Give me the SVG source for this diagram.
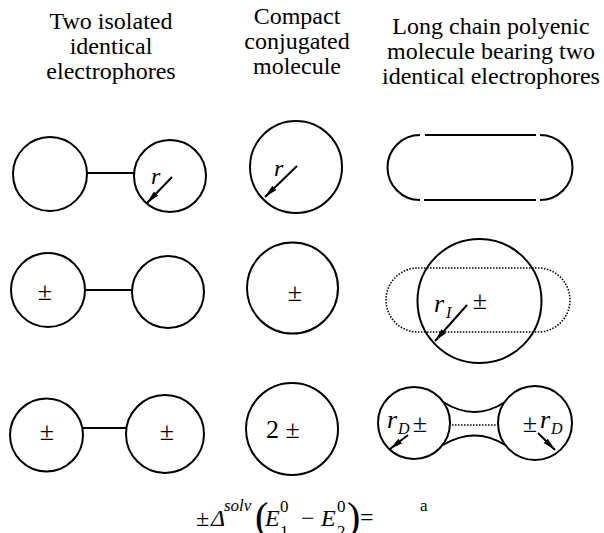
<svg xmlns="http://www.w3.org/2000/svg" width="604" height="533" viewBox="0 0 604 533">
<defs>
<style>
text{font-family:'Liberation Serif','Times New Roman','DejaVu Serif',serif;fill:#000}
.t{font-size:24px;text-anchor:middle}
.s{fill:none;stroke:#000;stroke-width:2}
.d{fill:none;stroke:#000;stroke-width:1.6;stroke-dasharray:1.5 1.5}
.c{stroke:#000;stroke-width:2}
.a{stroke:#000;stroke-width:2;fill:none;marker-end:url(#ah)}
.pm{font-size:26px;text-anchor:middle}
.i{font-style:italic}
</style>
<marker id="ah" markerWidth="14" markerHeight="8" refX="13" refY="4" orient="auto" markerUnits="userSpaceOnUse">
<path d="M0,1 L13,4 L0,7 Z" fill="#000"/>
</marker>
</defs>
<rect width="604" height="533" fill="#fff"/>
<g font-family="Liberation Serif, Times New Roman, DejaVu Serif, serif">
<g id="titles">
<text class="t" x="111" y="29">Two isolated</text>
<text class="t" x="111" y="54">identical</text>
<text class="t" x="111" y="79">electrophores</text>
<text class="t" x="297" y="24">Compact</text>
<text class="t" x="297" y="49">conjugated</text>
<text class="t" x="297" y="74">molecule</text>
<text class="t" x="491" y="34">Long chain polyenic</text>
<text class="t" x="491" y="59">molecule bearing two</text>
<text class="t" x="491" y="84">identical electrophores</text>
</g>
<g id="connectors">
<line class="c" x1="87" y1="173" x2="134" y2="173"/>
<line class="c" x1="85" y1="290" x2="132" y2="290"/>
<line class="c" x1="83" y1="428" x2="127" y2="428"/>
<line class="d" x1="452" y1="425" x2="497" y2="425"/>
</g>
<g id="r1-left"><circle class="s" cx="50" cy="174" r="37"/></g>
<g id="r1-right">
<circle class="s" cx="170" cy="176" r="36"/>
<line class="a" x1="172" y1="177" x2="147" y2="203"/>
<text class="i" x="151" y="184" font-size="24">r</text>
</g>
<g id="r1-compact">
<circle class="s" cx="296" cy="167" r="46"/>
<line class="a" x1="297" y1="166" x2="265" y2="197"/>
<text class="i" x="274" y="176" font-size="24">r</text>
</g>
<g id="r1-chain">
<path class="s" d="M420,135 A32.5,32.5 0 0 0 420,200"/>
<path class="s" d="M540,135 A32.5,32.5 0 0 1 540,200"/>
<line class="s" x1="425" y1="135" x2="536" y2="135"/>
<line class="s" x1="424" y1="200" x2="536" y2="200"/>
</g>
<g id="r2-left">
<circle class="s" cx="48" cy="290" r="37"/>
<text class="pm" x="45" y="300">±</text>
</g>
<g id="r2-right"><circle class="s" cx="168" cy="292" r="36"/></g>
<g id="r2-compact">
<circle class="s" cx="292.5" cy="288" r="45.5"/>
<text class="pm" x="295" y="301">±</text>
</g>
<g id="r2-chain">
<rect class="d" x="386" y="268" width="184" height="64" rx="32" ry="32"/>
<circle class="s" cx="479.5" cy="301" r="62"/>
<line class="a" x1="467" y1="305" x2="435" y2="341"/>
<text class="i" x="434" y="312" font-size="26">r</text>
<text class="i" x="446" y="318" font-size="16">I</text>
<text class="pm" x="480" y="309">±</text>
</g>
<g id="r3-left">
<circle class="s" cx="46.5" cy="435" r="36.5"/>
<text class="pm" x="47" y="440">±</text>
</g>
<g id="r3-right">
<circle class="s" cx="165" cy="434" r="39"/>
<text class="pm" x="167" y="440">±</text>
</g>
<g id="r3-compact">
<circle class="s" cx="292" cy="429" r="46"/>
<text class="pm" x="283" y="438">2 ±</text>
</g>
<g id="r3-chain">
<circle class="s" cx="414" cy="423" r="36"/>
<circle class="s" cx="535" cy="423" r="37"/>
<path class="s" d="M443,402 Q475,422 505,402"/>
<path class="s" d="M443,445 Q475,426 505,445"/>
<line class="a" x1="408" y1="435" x2="390" y2="449"/>
<line class="a" x1="538" y1="433" x2="555" y2="450"/>
<text class="i" x="387" y="428" font-size="26">r</text>
<text class="i" x="398" y="434" font-size="16">D</text>
<text class="pm" x="420" y="432">±</text>
<text class="pm" x="530" y="432">±</text>
<text class="i" x="540" y="428" font-size="26">r</text>
<text class="i" x="551" y="434" font-size="16">D</text>
</g>
<g id="equation">
<text x="196" y="526" font-size="24">±</text>
<text class="i" x="211" y="526" font-size="24">Δ</text>
<text class="i" x="224" y="511" font-size="17">solv</text>
<text x="255" y="530" font-size="40">(</text>
<text class="i" x="265" y="526" font-size="24">E</text>
<text x="280" y="512" font-size="17">0</text>
<text x="280" y="537" font-size="17">1</text>
<text x="301" y="526" font-size="24">−</text>
<text class="i" x="321" y="526" font-size="24">E</text>
<text x="337" y="512" font-size="17">0</text>
<text x="337" y="537" font-size="17">2</text>
<text x="347" y="530" font-size="40">)</text>
<text x="360" y="525" font-size="24">=</text>
<text x="420" y="511" font-size="17">a</text>
</g>
</g>
</svg>
